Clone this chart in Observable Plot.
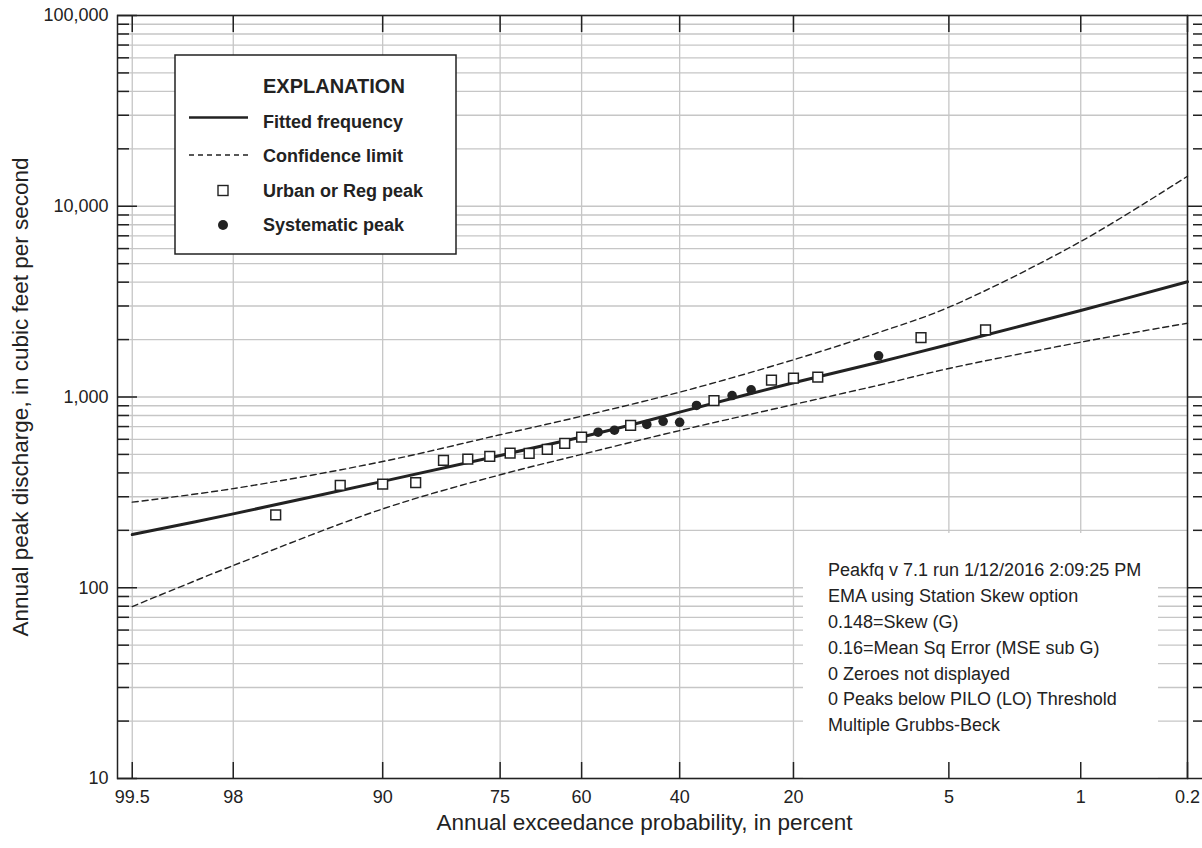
<!DOCTYPE html>
<html><head><meta charset="utf-8">
<script src="https://cdn.jsdelivr.net/npm/d3@7"></script>
<script src="https://cdn.jsdelivr.net/npm/@observablehq/plot@0.6"></script>
<style>
html,body{margin:0;padding:0;background:#fff;}
#chart svg{display:block;}
</style>
</head><body><div id="chart"></div>
<script>
// ---------- data ----------
const probTicks = [99.5, 98, 90, 75, 60, 40, 20, 5, 1, 0.2];          // exceedance %, x tick labels
const qTicks = [10, 100, 1000, 10000, 100000];                         // y tick labels
const urbanProb = [96.67, 93.33, 90, 86.67, 83.33, 80, 76.67, 73.33, 70, 66.67, 63.33, 60, 50, 33.33, 23.33, 20, 16.67, 6.67, 3.33];
const urbanQ    = [241, 344, 349, 356, 465, 472, 489, 508, 506, 532, 571, 616, 709, 956, 1225, 1255, 1270, 2046, 2251];
const systProb  = [56.67, 53.33, 46.67, 43.33, 40, 36.67, 30, 26.67, 10];
const systQ     = [654, 670, 718, 746, 737, 903, 1018, 1091, 1644];
const fitProb   = [99.5, 98, 90, 75, 60, 50, 40, 20, 10, 5, 1, 0.2];
const fittedQ   = [190, 244, 361, 494, 617, 713, 833, 1187, 1522, 1885, 2841, 4018];
const confProb  = [99.5, 98, 90, 75, 60, 40, 20, 10, 5, 1, 0.2];
const upperQ    = [281, 331, 459, 634, 793, 1060, 1567, 2178, 2956, 6535, 14370];
const lowerQ    = [79.7, 130.8, 259, 391, 500, 667, 913, 1153, 1411, 1938, 2437];
const legendLabels = ["Fitted frequency", "Confidence limit", "Urban or Reg peak", "Systematic peak"];
const infoLines = [
  "Peakfq v 7.1 run 1/12/2016 2:09:25 PM",
  "EMA using Station Skew option",
  "0.148=Skew (G)",
  "0.16=Mean Sq Error (MSE sub G)",
  "0 Zeroes not displayed",
  "0 Peaks below PILO (LO) Threshold",
  "Multiple Grubbs-Beck"
];
const xTitle = "Annual exceedance probability, in percent";
const yTitle = "Annual peak discharge, in cubic feet per second";

// ---------- helpers ----------
function probit(p) { // inverse standard normal CDF (Acklam)
  const a = [-3.969683028665376e+01, 2.209460984245205e+02, -2.759285104469687e+02, 1.383577518672690e+02, -3.066479806614716e+01, 2.506628277459239e+00];
  const b = [-5.447609879822406e+01, 1.615858368580409e+02, -1.556989798598866e+02, 6.680131188771972e+01, -1.328068155288572e+01];
  const c = [-7.784894002430293e-03, -3.223964580411365e-01, -2.400758277161838e+00, -2.549732539343734e+00, 4.374664141464968e+00, 2.938163982698783e+00];
  const d = [7.784695709041462e-03, 3.224671290700398e-01, 2.445134137142996e+00, 3.754408661907416e+00];
  const plow = 0.02425, phigh = 1 - plow;
  let q, r;
  if (p < plow) {
    q = Math.sqrt(-2 * Math.log(p));
    return (((((c[0]*q+c[1])*q+c[2])*q+c[3])*q+c[4])*q+c[5]) / ((((d[0]*q+d[1])*q+d[2])*q+d[3])*q+1);
  }
  if (p > phigh) {
    q = Math.sqrt(-2 * Math.log(1 - p));
    return -(((((c[0]*q+c[1])*q+c[2])*q+c[3])*q+c[4])*q+c[5]) / ((((d[0]*q+d[1])*q+d[2])*q+d[3])*q+1);
  }
  q = p - 0.5; r = q * q;
  return (((((a[0]*r+a[1])*r+a[2])*r+a[3])*r+a[4])*r+a[5])*q / (((((b[0]*r+b[1])*r+b[2])*r+b[3])*r+b[4])*r+1);
}
const zx = p => probit(1 - p / 100);

const gridQ = [], minorQ = [];
for (const dec of [10, 100, 1000, 10000]) for (let k = 1; k <= 9; k++) { gridQ.push(dec * k); if (k > 1) minorQ.push(dec * k); }
gridQ.push(100000);

// ---------- layout ----------
const W = 1202, H = 848, ML = 117, MR = 15, MT = 15, MB = 70;
const PW = W - ML - MR, PH = H - MT - MB;
const font = '"Liberation Sans", Arial, sans-serif';
const ink = "#222";
const gridColor = "#c6c6c6";

function infoBox() {
  const g = d3.create("svg:g").attr("font-family", font).attr("font-size", 18).attr("fill", ink).attr("text-anchor", "start");
  g.append("rect").attr("x", 803).attr("y", 533).attr("width", 355).attr("height", H - MB - 533)
    .attr("fill", "#ffffff").attr("stroke", "none");
  g.selectAll("text").data(infoLines).join("text")
    .attr("x", 828).attr("y", (d, i) => 570 + i * 25.8).attr("dy", "0.35em").text(d => d);
  return g.node();
}

function legendBox() {
  const g = d3.create("svg:g").attr("font-family", font).attr("fill", ink).attr("text-anchor", "start");
  g.append("rect").attr("x", 175).attr("y", 55).attr("width", 281).attr("height", 199)
    .attr("fill", "white").attr("stroke", ink).attr("stroke-width", 1.5);
  g.append("text").attr("x", 263).attr("y", 86).attr("dy", "0.35em").attr("font-size", 20).attr("font-weight", "bold").text("EXPLANATION");
  const ys = [121.5, 156, 190.5, 225];
  g.selectAll("text.item").data(legendLabels).join("text").attr("class", "item")
    .attr("x", 263).attr("y", (d, i) => ys[i]).attr("dy", "0.35em").attr("font-size", 18).attr("font-weight", "bold").text(d => d);
  g.append("line").attr("x1", 189).attr("x2", 248).attr("y1", 117.5).attr("y2", 117.5).attr("stroke", ink).attr("stroke-width", 2.5);
  g.append("line").attr("x1", 189).attr("x2", 248).attr("y1", 155).attr("y2", 155).attr("stroke", ink).attr("stroke-width", 1.3).attr("stroke-dasharray", "5,4");
  g.append("rect").attr("x", 218).attr("y", 185.5).attr("width", 10).attr("height", 10).attr("fill", "white").attr("stroke", ink).attr("stroke-width", 1.4);
  g.append("circle").attr("cx", 223).attr("cy", 225).attr("r", 5).attr("fill", ink);
  return g.node();
}

const chart = Plot.plot({
  width: W, height: H,
  marginLeft: ML, marginRight: MR, marginTop: MT, marginBottom: MB,
  style: {fontFamily: font, fontSize: "18px", color: ink, background: "white", overflow: "visible"},
  x: {type: "linear", domain: [zx(99.6), zx(0.2)], axis: null},
  y: {type: "log", domain: [10, 100000], axis: null},
  marks: [
    Plot.ruleY(gridQ, {y: d => d, stroke: gridColor, strokeWidth: 1.3}),
    Plot.ruleX(probTicks, {x: zx, stroke: gridColor, strokeWidth: 1.3}),
    // left ticks (inward)
    Plot.tickY(minorQ, {y: d => d, insetRight: PW - 12, stroke: ink, strokeWidth: 1.5}),
    Plot.tickY(qTicks, {y: d => d, insetRight: PW - 20, stroke: ink, strokeWidth: 1.5}),
    // right ticks (outward)
    Plot.tickY(minorQ, {y: d => d, insetLeft: PW - 17, dx: 23, stroke: ink, strokeWidth: 1.5}),
    Plot.tickY(qTicks, {y: d => d, insetLeft: PW - 16, dx: 16, stroke: ink, strokeWidth: 1.5}),
    // top & bottom ticks (inward)
    Plot.tickX(probTicks, {x: zx, insetBottom: PH - 17, stroke: ink, strokeWidth: 1.5}),
    Plot.tickX(probTicks, {x: zx, insetTop: PH - 16, stroke: ink, strokeWidth: 1.5}),
    Plot.frame({stroke: ink, strokeWidth: 1.5}),
    // tick labels and titles
    Plot.text(qTicks, {y: d => d, frameAnchor: "left", dx: -9, textAnchor: "end", lineAnchor: "middle", text: d => d3.format(",")(d), fontSize: 18, fill: ink}),
    Plot.text(probTicks, {x: zx, frameAnchor: "bottom", dy: 19, textAnchor: "middle", lineAnchor: "middle", text: d => String(d), fontSize: 18, fill: ink}),
    Plot.text([xTitle], {frameAnchor: "bottom", dy: 44, dx: -8, textAnchor: "middle", lineAnchor: "middle", text: d => d, fontSize: 22.5, fill: ink}),
    Plot.text([yTitle], {frameAnchor: "left", dx: -97, rotate: -90, textAnchor: "middle", lineAnchor: "middle", text: d => d, fontSize: 22.5, fill: ink}),
    // curves
    Plot.line(confProb, {x: zx, y: (d, i) => upperQ[i], curve: "catmull-rom", stroke: ink, strokeWidth: 1.4, strokeDasharray: "6,4"}),
    Plot.line(confProb, {x: zx, y: (d, i) => lowerQ[i], curve: "catmull-rom", stroke: ink, strokeWidth: 1.4, strokeDasharray: "6,4"}),
    Plot.line(fitProb, {x: zx, y: (d, i) => fittedQ[i], curve: "catmull-rom", stroke: ink, strokeWidth: 3}),
    // peaks
    Plot.dot(urbanProb, {x: zx, y: (d, i) => urbanQ[i], symbol: "square", r: 5.5, fill: "white", stroke: ink, strokeWidth: 1.5}),
    Plot.dot(systProb, {x: zx, y: (d, i) => systQ[i], symbol: "circle", r: 4.8, fill: ink, stroke: "none"})
  ]
});

// information box: placed over the grid but beneath the ticks and frame
const firstTick = chart.querySelector('[aria-label="tick"]');
const info = infoBox();
if (firstTick) chart.insertBefore(info, firstTick); else chart.appendChild(info);
chart.appendChild(legendBox());
document.getElementById("chart").appendChild(chart);
</script>
</body></html>
